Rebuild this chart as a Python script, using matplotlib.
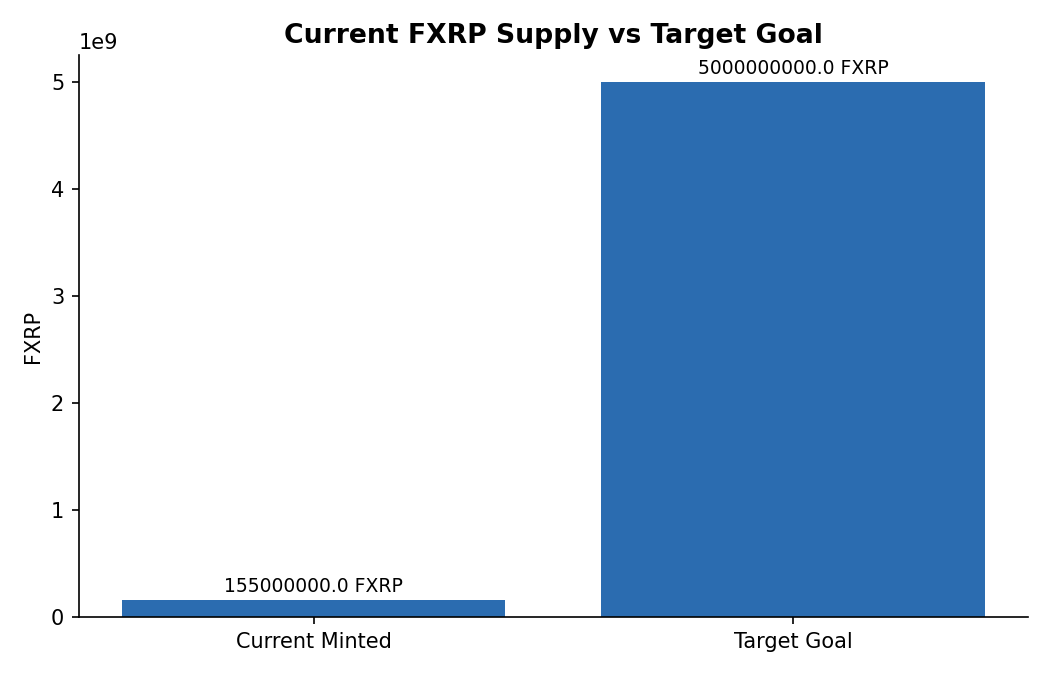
import matplotlib
matplotlib.use("Agg")
import matplotlib.pyplot as plt

# chart values
categories = ["Current Minted", "Target Goal"]
supply = [155000000.0, 5000000000.0]
bar_color = "#2b6cb0"


def plot_supply(categories, supply):
    """Bar chart of current supply against the goal."""
    fig, ax = plt.subplots(figsize=(7, 4.5), dpi=150)
    bars = ax.bar(categories, supply, color=bar_color)
    ax.bar_label(bars, labels=[f"{v:.1f} FXRP" for v in supply],
                 padding=2, fontsize=9)
    ax.set_title("Current FXRP Supply vs Target Goal",
                 fontsize=12.8, fontweight="bold")
    ax.set_ylabel("FXRP")
    ax.spines["top"].set_visible(False)
    ax.spines["right"].set_visible(False)
    fig.subplots_adjust(left=0.075, right=0.979, top=0.918, bottom=0.086)
    fig.savefig("out.png")


if __name__ == "__main__":
    plot_supply(categories, supply)
